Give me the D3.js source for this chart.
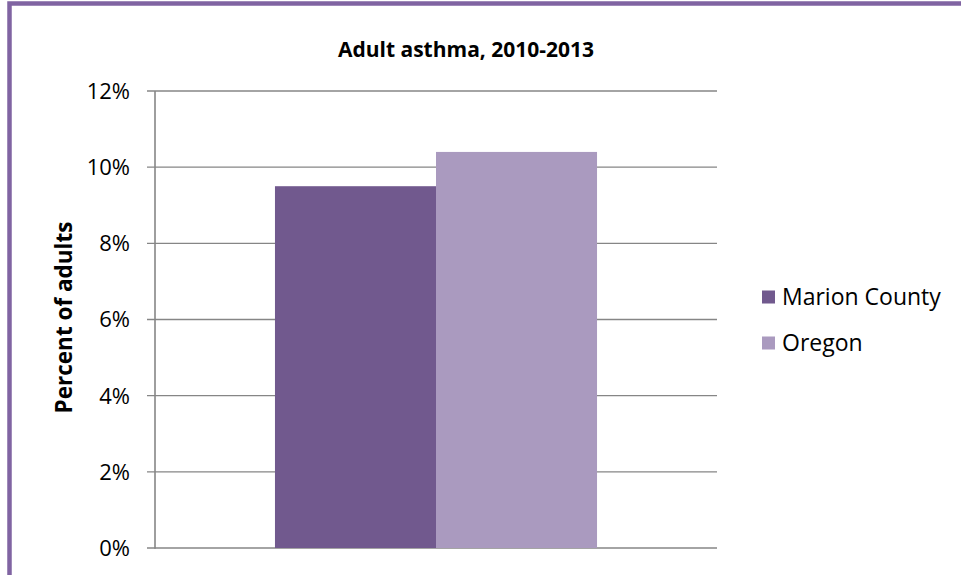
<!DOCTYPE html>
<html>
<head>
<meta charset="utf-8">
<script src="https://cdn.jsdelivr.net/npm/d3@7"></script>
<style>
  html, body { margin: 0; padding: 0; background: #fff; }
  svg { display: block; }
  text { font-family: "Open Sans", Lato, sans-serif; fill: #000; }
</style>
</head>
<body>
<svg id="chart" width="961" height="575"></svg>
<script>
const title = "Adult asthma, 2010-2013";
const yAxisTitle = "Percent of adults";
const categories = ["Adult asthma"];
const seriesNames = ["Marion County", "Oregon"];
const marionValues = [9.5];
const oregonValues = [10.4];
const seriesColors = ["#71598e", "#aa9abf"];
const yTicks = [0, 2, 4, 6, 8, 10, 12];
const yTickLabels = ["0%", "2%", "4%", "6%", "8%", "10%", "12%"];

const seriesValues = [marionValues, oregonValues];

const svg = d3.select("#chart");

// frame
svg.append("rect").attr("x", 9.5).attr("y", 3.5).attr("width", 1000).attr("height", 1000)
  .attr("fill", "#fff").attr("stroke", "#8064a2").attr("stroke-width", 4.5);

const plot = { left: 155, right: 717, top: 91, bottom: 548 };

const y = d3.scaleLinear().domain([0, 12]).range([plot.bottom, plot.top]);
const x0 = d3.scaleBand().domain(categories).range([plot.left, plot.right])
  .paddingInner(0.2714).paddingOuter(0.2714);
const x1 = d3.scaleBand().domain(seriesNames).range([0, x0.bandwidth()]).padding(0);

// gridlines
svg.append("g").selectAll("line").data(yTicks).join("line")
  .attr("x1", plot.left - 8).attr("x2", plot.right)
  .attr("y1", d => y(d)).attr("y2", d => y(d))
  .attr("stroke", "#868686").attr("stroke-width", 1.4);

// bars
categories.forEach((c, ci) => {
  const g = svg.append("g").attr("transform", `translate(${x0(c)},0)`);
  g.selectAll("rect").data(seriesNames.map((s, si) => ({ s, v: seriesValues[si][ci], col: seriesColors[si] })))
    .join("rect")
    .attr("x", d => x1(d.s))
    .attr("width", x1.bandwidth())
    .attr("y", d => y(d.v))
    .attr("height", d => y(0) - y(d.v))
    .attr("fill", d => d.col);
});

// y axis line
svg.append("line").attr("x1", plot.left).attr("x2", plot.left)
  .attr("y1", plot.top).attr("y2", plot.bottom + 0.7)
  .attr("stroke", "#868686").attr("stroke-width", 1.6);

// tick labels
svg.append("g").selectAll("text").data(yTicks).join("text")
  .attr("x", 130).attr("y", d => y(d))
  .attr("dy", "0.36em")
  .attr("text-anchor", "end")
  .style("font-size", "22px")
  .text((d, i) => yTickLabels[i]);

// title
svg.append("text").attr("x", 466).attr("y", 57)
  .attr("text-anchor", "middle")
  .style("font-size", "21px").style("font-weight", "bold")
  .text(title);

// y axis title
svg.append("text")
  .attr("transform", `translate(72,${(plot.top + plot.bottom) / 2 - 2}) rotate(-90)`)
  .attr("text-anchor", "middle")
  .style("font-size", "22.5px").style("font-weight", "bold")
  .text(yAxisTitle);

// legend
const legend = svg.append("g");
seriesNames.forEach((s, i) => {
  const cy = 297 + i * 46;
  legend.append("rect").attr("x", 762).attr("y", cy - 6.5).attr("width", 13).attr("height", 13)
    .attr("fill", seriesColors[i]);
  legend.append("text").attr("x", 782).attr("y", cy).attr("dy", "0.36em")
    .style("font-size", "23px").text(s);
});
</script>
</body>
</html>
